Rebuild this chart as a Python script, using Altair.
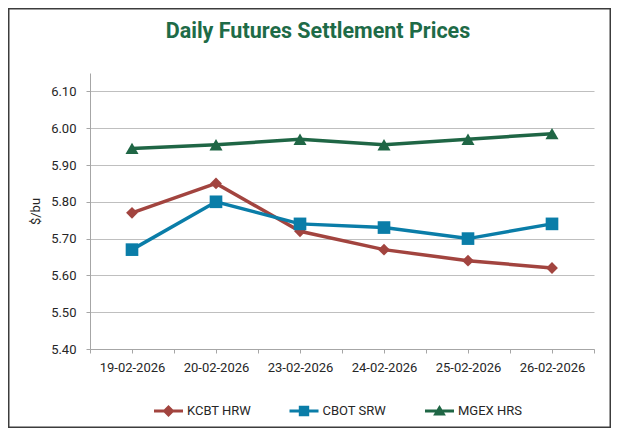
import json
import altair as alt
import pandas as pd

# ---------------- data ----------------
dates = ["19-02-2026", "20-02-2026", "23-02-2026", "24-02-2026", "25-02-2026", "26-02-2026"]
series_names = ["KCBT HRW", "CBOT SRW", "MGEX HRS"]
kcbt_hrw = [5.77, 5.85, 5.72, 5.67, 5.64, 5.62]
cbot_srw = [5.67, 5.80, 5.74, 5.73, 5.70, 5.74]
mgex_hrs = [5.945, 5.955, 5.97, 5.955, 5.97, 5.985]
y_ticks = [5.40, 5.50, 5.60, 5.70, 5.80, 5.90, 6.00, 6.10]

# ---------------- styles ----------------
colors = ["#A2443F", "#0A7DA8", "#1F6645"]
marker_shapes = ["diamond", "square", "triangle-up"]
marker_sizes = [140, 160, 170]
legend_paths = [
    "M-1.45,-0.16H1.45V0.16H-1.45Z M0,-0.6L0.6,0L0,0.6L-0.6,0Z",
    "M-1.45,-0.16H1.45V0.16H-1.45Z M-0.52,-0.52H0.52V0.52H-0.52Z",
    "M-1.45,-0.16H1.45V0.16H-1.45Z M0,-0.6L0.64,0.46H-0.64Z",
]
TEXT = "#262626"
FONT = "Roboto"

rows = []
for name, vals in zip(series_names, [kcbt_hrw, cbot_srw, mgex_hrs]):
    for i, (d, v) in enumerate(zip(dates, vals)):
        rows.append({"date": d, "idx": i, "series": name, "price": v})
df = pd.DataFrame(rows)

tick_positions = [k / 2 - 0.5 for k in range(2 * len(dates) + 1)]
label_expr = "datum.value % 1 === 0 ? " + json.dumps(dates) + "[datum.value] : ''"

x_enc = alt.X(
    "idx:Q",
    scale=alt.Scale(domain=[-0.5, len(dates) - 0.5], nice=False, zero=False),
    axis=alt.Axis(
        values=tick_positions,
        labelExpr=label_expr,
        grid=False,
        title=None,
        labelOverlap=False,
        labelFlush=False,
        tickSize=4,
        labelPadding=8,
    ),
)
y_enc = alt.Y(
    "price:Q",
    scale=alt.Scale(domain=[5.40, 6.15], nice=False, zero=False),
    axis=alt.Axis(
        values=y_ticks,
        format=".2f",
        title="$/bu",
        tickSize=4,
        labelPadding=10,
        titlePadding=8,
        titleFontWeight="normal",
        titleFontSize=13,
        titleColor=TEXT,
        titleFont=FONT,
    ),
)

border = alt.Chart(alt.Data(values=[{}])).mark_rect(
    filled=False, stroke="#3C3C3C", strokeWidth=1.5
).encode(
    x=alt.value(-81.25), x2=alt.value(520.25), y=alt.value(-64.25), y2=alt.value(354.25)
)

base = alt.Chart(df)

series_layers = []
for name, col, shp, sz in zip(series_names, colors, marker_shapes, marker_sizes):
    sub = base.transform_filter(alt.datum.series == name)
    series_layers.append(sub.mark_line(strokeWidth=3.5, color=col).encode(x=x_enc, y=y_enc))
for name, col, shp, sz in zip(series_names, colors, marker_shapes, marker_sizes):
    sub = base.transform_filter(alt.datum.series == name)
    series_layers.append(
        sub.mark_point(shape=shp, size=sz, filled=True, opacity=1, color=col).encode(x=x_enc, y=y_enc)
    )

leg = alt.Legend(
    orient="none", legendX=68.5, legendY=328, direction="horizontal", title=None,
    symbolSize=400, symbolStrokeWidth=0, labelFont=FONT, labelFontSize=13,
    labelColor=TEXT, labelOffset=8.5, columnPadding=37.5, padding=0, symbolOpacity=1,
)
# legend-only layer: draws nothing on the plot, only supplies the legend entries
legend_layer = base.transform_filter(alt.datum.idx < 0).mark_point(filled=True).encode(
    x=x_enc, y=y_enc,
    color=alt.Color("series:N", scale=alt.Scale(domain=series_names, range=colors), legend=leg),
    shape=alt.Shape("series:N", scale=alt.Scale(domain=series_names, range=legend_paths), legend=leg),
)

chart = alt.layer(border, *series_layers, legend_layer).properties(
    width=504,
    height=276,
    background="white",
    autosize=alt.AutoSizeParams(type="none"),
    padding={"left": 82, "top": 65, "right": 17, "bottom": 79},
    title=alt.TitleParams(
        "Daily Futures Settlement Prices",
        font=FONT,
        fontSize=21.5,
        fontWeight="bold",
        color="#1E6B47",
        anchor="middle",
        baseline="alphabetic",
        offset=0,
        dx=-24,
        dy=51,
    ),
).configure_view(stroke=None).configure_axis(
    domainColor="#A6A6A6",
    tickColor="#A6A6A6",
    gridColor="#BFBFBF",
    labelColor=TEXT,
    labelFont=FONT,
    labelFontSize=13,
)

chart.save("out.html", embed_options={"renderer": "svg", "actions": False})
